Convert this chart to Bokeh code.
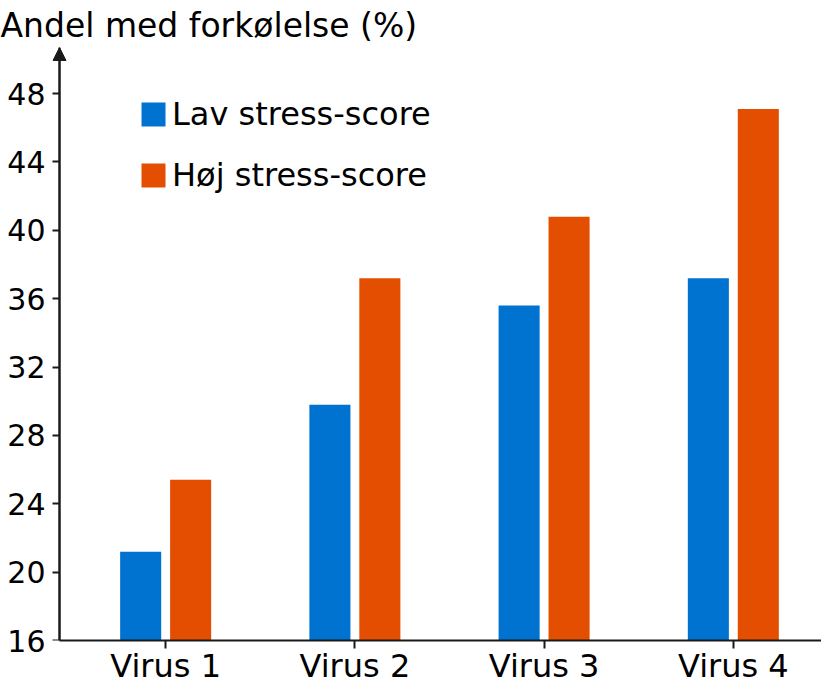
from bokeh.plotting import figure
from bokeh.models import (Range1d, FixedTicker, Legend, LegendItem, Arrow,
                          NormalHead, ColumnDataSource, LinearAxis)
from bokeh.transform import dodge
from bokeh.embed import file_html
from bokeh.resources import INLINE

# ---- data ----
viruses = ["Virus 1", "Virus 2", "Virus 3", "Virus 4"]
positions = [1, 2, 3, 4]
lav_stress = [21.2, 29.8, 35.6, 37.2]
hoj_stress = [25.4, 37.2, 40.8, 47.1]
y_ticks = [16, 20, 24, 28, 32, 36, 40, 44, 48]
series_names = ["Lav stress-score", "Høj stress-score"]
y_title = "Andel med forkølelse (%)"

BLUE = "#0072CF"
ORANGE = "#E34E00"
INK = "#1a1a1a"
FONT = "DejaVu Sans"

axis_x = 0.439          # where the y axis line sits (data units)
x_start, x_end = 0.402, 4.466
y_start, y_end = 16, 50.7

p = figure(width=821, height=687, output_backend="svg", toolbar_location=None,
           x_range=Range1d(x_start, x_end), y_range=Range1d(y_start, y_end),
           min_border_left=52, min_border_right=0, min_border_top=45,
           min_border_bottom=46)

src = ColumnDataSource(dict(x=positions, lav=lav_stress, hoj=hoj_stress))
r1 = p.vbar(x=dodge("x", -0.132), top="lav", bottom=y_start, width=0.217,
            source=src, fill_color=BLUE, line_color=None)
r2 = p.vbar(x=dodge("x", 0.132), top="hoj", bottom=y_start, width=0.217,
            source=src, fill_color=ORANGE, line_color=None)

# title as y-axis caption
p.title.text = y_title
p.title.text_font = FONT
p.title.text_font_size = "33px"
p.title.text_font_style = "normal"
p.title.text_color = "#000000"
p.title.align = "left"
p.title.offset = -52
p.title.standoff = 6

p.outline_line_color = None
p.xgrid.visible = False
p.ygrid.visible = False
p.background_fill_color = "white"
p.border_fill_color = "white"

# x axis
xa = p.xaxis[0]
xa.ticker = FixedTicker(ticks=positions)
xa.major_label_overrides = {pos: lab for pos, lab in zip(positions, viruses)}
xa.bounds = (axis_x, x_end)
xa.axis_line_width = 2
xa.axis_line_color = INK
xa.major_tick_line_width = 2
xa.major_tick_line_color = INK
xa.major_tick_in = 0
xa.major_tick_out = 8
xa.minor_tick_line_color = None
xa.major_label_text_font = FONT
xa.major_label_text_font_size = "32px"
xa.major_label_text_color = "#000000"
xa.major_label_standoff = -2

# y axis labels (left panel, no line / ticks)
ya = p.yaxis[0]
ya.ticker = FixedTicker(ticks=y_ticks)
ya.axis_line_color = None
ya.major_tick_line_color = None
ya.minor_tick_line_color = None
ya.major_tick_in = 0
ya.major_tick_out = 0
ya.major_label_text_font = FONT
ya.major_label_text_font_size = "30px"
ya.major_label_text_color = "#000000"
ya.major_label_standoff = 7

# y axis line and ticks, placed a little inside the frame
yl = LinearAxis(ticker=FixedTicker(ticks=y_ticks), fixed_location=axis_x,
                major_label_overrides={t: "" for t in y_ticks},
                major_label_text_font_size="1px", major_label_standoff=-9,
                axis_line_width=2, axis_line_color=INK,
                major_tick_line_width=2, major_tick_line_color=INK,
                major_tick_in=0, major_tick_out=8, minor_tick_line_color=None)
p.add_layout(yl, "left")

# arrow head on the y axis
p.add_layout(Arrow(end=NormalHead(size=13, fill_color=INK, line_color=INK),
                   x_start=axis_x, y_start=y_start, x_end=axis_x, y_end=y_end,
                   line_width=2, line_color=INK))

legend = Legend(items=[LegendItem(label=series_names[0], renderers=[r1]),
                       LegendItem(label=series_names[1], renderers=[r2])],
                location=(86, 446), orientation="vertical")
legend.glyph_width = 30
legend.glyph_height = 30
legend.label_text_font = FONT
legend.label_text_font_size = "32px"
legend.label_text_color = "#000000"
legend.label_standoff = 4
legend.spacing = 23
legend.padding = 0
legend.margin = 0
legend.border_line_color = None
legend.background_fill_alpha = 0
p.add_layout(legend)

open("out.html", "w").write(file_html(p, INLINE))
